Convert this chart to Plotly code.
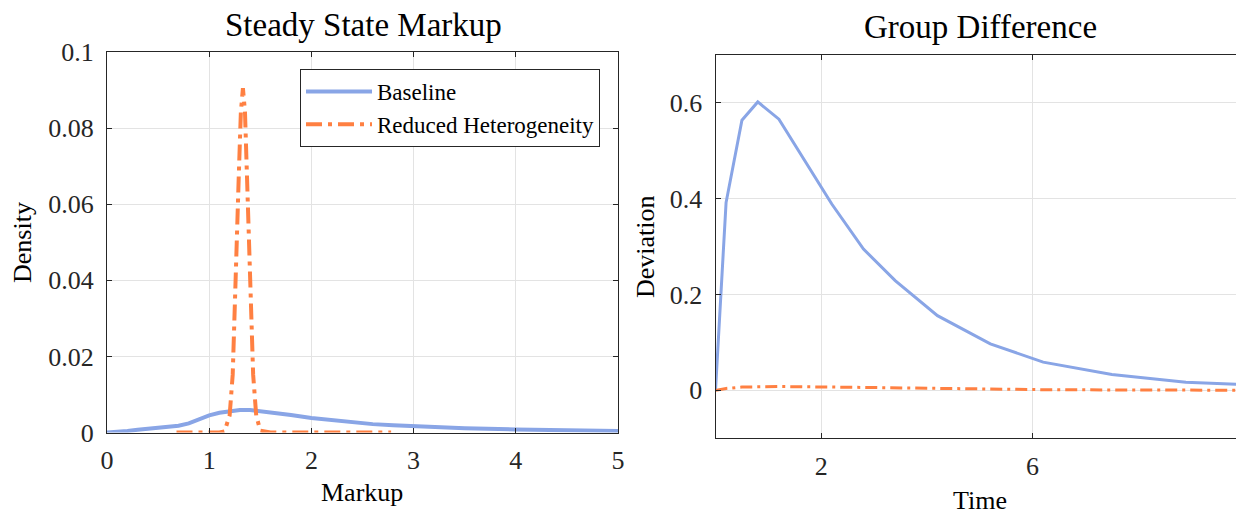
import plotly.graph_objects as go

# ---- Left panel: steady-state markup density ----
markup_base = [0.0, 0.1, 0.2, 0.3, 0.4, 0.5, 0.6, 0.7, 0.8, 0.9, 1.0, 1.1, 1.2, 1.3, 1.4,
               1.5, 1.6, 1.8, 2.0, 2.2, 2.4, 2.6, 2.8, 3.0, 3.5, 4.0, 4.5, 5.0]
density_base = [0.0000, 0.0001, 0.0004, 0.0007, 0.0010, 0.0012, 0.0014, 0.0018, 0.0024, 0.0034,
                0.0045, 0.0052, 0.0056, 0.0059, 0.0059, 0.0056, 0.0053, 0.0046, 0.0038, 0.0032,
                0.0026, 0.0022, 0.0019, 0.0016, 0.0011, 0.0008, 0.0006, 0.0004]

markup_red = [0.68, 0.8, 0.9, 1.0, 1.1, 1.15, 1.2, 1.23, 1.26, 1.29, 1.31, 1.33, 1.35, 1.37,
              1.40, 1.43, 1.46, 1.5, 1.6, 1.8, 2.0, 2.2, 2.4, 2.6, 2.78]
density_red = [0.0, 0.0, 0.0, 0.0, 0.0, 0.0003, 0.0045, 0.0152, 0.0379, 0.068, 0.0843, 0.0905,
               0.0843, 0.068, 0.0379, 0.0152, 0.0045, 0.0005, 0.0, 0.0, 0.0, 0.0, 0.0, 0.0, 0.0]

# ---- Right panel: group difference over time ----
time = [0.0, 0.2, 0.5, 0.8, 1.2, 2.2, 2.8, 3.4, 4.2, 5.2, 6.2, 7.5, 8.9, 10.0]
dev_base = [0.0, 0.392, 0.564, 0.602, 0.566, 0.389, 0.295, 0.229, 0.156, 0.097, 0.059,
            0.033, 0.017, 0.012]
dev_red = [0.0, 0.004, 0.007, 0.008, 0.008, 0.007, 0.006, 0.005, 0.004, 0.003, 0.0015,
           0.001, 0.0005, 0.0003]

left_xticks = [0, 1, 2, 3, 4, 5]
left_yticks = [0, 0.02, 0.04, 0.06, 0.08, 0.1]
right_xticks = [2, 6]
right_yticks = [0, 0.2, 0.4, 0.6]

BLUE = "#89A5E6"
ORANGE = "#FF8042"
FONT = "Liberation Serif"
INK = "#262626"
GRID = "#e3e3e3"
OFF = 8                      # page body margin
W, H = 1244 - OFF, 516 - OFF

fig = go.Figure()
fig.add_trace(go.Scatter(x=markup_base, y=density_base, mode="lines", name="Baseline",
                         line=dict(color=BLUE, width=4), xaxis="x", yaxis="y"))
fig.add_trace(go.Scatter(x=markup_red, y=density_red, mode="lines", name="Reduced Heterogeneity",
                         line=dict(color=ORANGE, width=4, dash="16px,6px,4px,6px"),
                         xaxis="x", yaxis="y"))
fig.add_trace(go.Scatter(x=time, y=dev_base, mode="lines", showlegend=False,
                         line=dict(color=BLUE, width=3), xaxis="x2", yaxis="y2"))
fig.add_trace(go.Scatter(x=time, y=dev_red, mode="lines", showlegend=False,
                         line=dict(color=ORANGE, width=3, dash="12px,5px,3px,5px"),
                         xaxis="x2", yaxis="y2"))

# plot-area boxes in screen pixels
L = dict(x0=107, x1=618, y0=52, y1=432.5)
R = dict(x0=715.5, x1=1244, y0=55, y1=438.3)

def px(x):
    return (x - OFF) / W

def py(y):
    return 1 - (y - OFF) / H

def dom_x(b):
    return [px(b["x0"]), min(1.0, px(b["x1"]))]

def dom_y(b):
    return [py(b["y1"]), py(b["y0"])]

def axis(**kw):
    d = dict(showline=True, linecolor=INK, linewidth=1, mirror="allticks",
             ticks="inside", ticklen=5, tickcolor=INK, showgrid=True, gridcolor=GRID,
             gridwidth=1, zeroline=False, automargin=False,
             tickfont=dict(family=FONT, size=26, color=INK))
    d.update(kw)
    return d

fig.update_layout(
    template="none",
    width=W, height=H, autosize=False,
    margin=dict(l=0, r=0, t=0, b=0, pad=0),
    paper_bgcolor="white", plot_bgcolor="white",
    xaxis=axis(domain=dom_x(L), range=[0, 5], tickvals=left_xticks, anchor="y",
               ticklabelstandoff=4),
    yaxis=axis(domain=dom_y(L), range=[0, 0.1], tickvals=left_yticks, anchor="x",
               ticklabelstandoff=7),
    xaxis2=axis(domain=dom_x(R), range=[0, 10], tickvals=right_xticks, anchor="y2",
                ticklabelstandoff=4),
    yaxis2=axis(domain=dom_y(R), range=[-0.1, 0.7], tickvals=right_yticks, anchor="x2",
                ticklabelstandoff=7),
    legend=dict(x=px(600), y=py(69), xanchor="right", yanchor="top",
                bgcolor="white", bordercolor=INK, borderwidth=1,
                font=dict(family=FONT, size=23, color="black"), itemwidth=66,
                tracegroupgap=0),
    showlegend=True,
)

def ann(text, x, y, size, angle=0):
    fig.add_annotation(text=text, x=px(x), y=py(y), xref="paper", yref="paper",
                       showarrow=False, textangle=angle, xanchor="center", yanchor="middle",
                       font=dict(family=FONT, size=size, color="black"))

ann("Steady State Markup", 363, 25, 33)
ann("Group Difference", 980, 27, 33)
ann("Markup", 362, 492, 26)
ann("Density", 22, 243, 26, -90)
ann("Time", 980, 500, 26)
ann("Deviation", 645, 247, 26, -90)

fig.write_html("out.html")
